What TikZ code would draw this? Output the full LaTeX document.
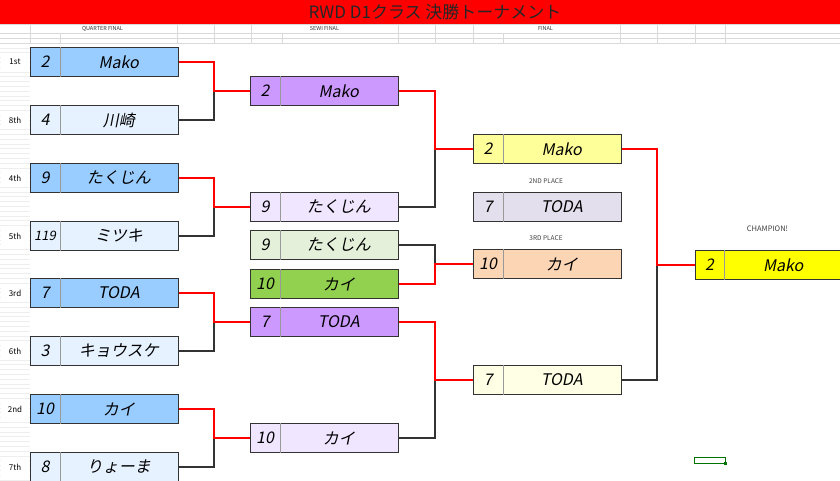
\documentclass[tikz,border=0pt]{standalone}
\usepackage{fontspec}
\setmainfont{Noto Sans CJK JP}
\newfontfamily\slfont[FakeSlant=0.2]{Noto Sans CJK JP}
\usetikzlibrary{positioning}

\definecolor{cbar}{HTML}{FF0000}
\definecolor{cgrid}{HTML}{D9D9D9}
\definecolor{cframe}{HTML}{333333}
\definecolor{cqfwin}{HTML}{99CCFF}
\definecolor{cqflose}{HTML}{E6F2FF}
\definecolor{csfwin}{HTML}{CC99FF}
\definecolor{csflose}{HTML}{F0E6FF}
\definecolor{ctplose}{HTML}{E4F0DA}
\definecolor{ctpwin}{HTML}{92D050}
\definecolor{cfwin}{HTML}{FFFF99}
\definecolor{cflose}{HTML}{FFFFE5}
\definecolor{csecond}{HTML}{E4DFEC}
\definecolor{cthird}{HTML}{FCD5B4}
\definecolor{cchamp}{HTML}{FFFF00}

% one entry: name, left x, centre y, number, player, colour
\newcommand{\entry}[6]{%
  \node[entry, fill=#6] (#1) at (#2,#3) {};
  \draw[divider] ([xshift=30pt]#1.north west) -- ([xshift=30pt]#1.south west);
  \node[who] (#1n) at ([xshift=15pt]#1.west) {#4};
  \node[who] (#1t) at ([xshift=88.75pt]#1.west) {#5};
}

\begin{document}
\begin{tikzpicture}[x=1pt, y=-1pt,
                    entry/.style={draw=cframe, line width=1.3pt, anchor=west, rectangle,
                                  minimum width=147.5pt, minimum height=28.5pt, inner sep=0pt},
                    divider/.style={draw=black!40, line width=0.6pt},
                    who/.style={font=\slfont\fontsize{16pt}{16pt}\selectfont, inner sep=0pt},
                    win/.style={draw=cbar, line width=1.6pt},
                    lose/.style={draw=cframe, line width=1.4pt},
                    tag/.style={font=\fontsize{8pt}{8pt}\selectfont, fill=white,
                                minimum width=28pt, minimum height=17pt, inner sep=0pt},
                    head/.style={font=\fontsize{5.5pt}{5.5pt}\selectfont, text=black!80, inner sep=0pt},
                    place/.style={font=\fontsize{6.5pt}{6.5pt}\selectfont, text=black!75, inner sep=0pt},
                    gridline/.style={draw=cgrid, line width=0.5pt}]
\clip (0,0) rectangle (840,481);
\fill[white] (0,0) rectangle (840,481);

% sheet lines
\foreach \y in {43,47.8,...,481}
    \draw[gridline, draw=cgrid!45] (0,\y) -- (30,\y);
\foreach \y in {24,33,38,43}
    \draw[gridline] (0,\y) -- (840,\y);
\foreach \x in {30,177,214,251,398,435,473,620,657,695,725}
    \draw[gridline] (\x,24) -- (\x,43);
\foreach \x in {60,282,503}
    \draw[gridline] (\x,33) -- (\x,43);

% title bar
\fill[cbar] (0,0) rectangle (840,24);
\node[font=\fontsize{17pt}{17pt}\selectfont, text=black!85, inner sep=0pt] (title) at (435,12.5)
    {RWD D1クラス 決勝トーナメント};

\node[head] (hqf) at (102.5,28.5) {QUARTER FINAL};
\node[head] (hsf) at (324.5,28.5) {SEWI FINAL};
\node[head] (hf) at (545.5,28.5) {FINAL};

% seeds
\foreach \y/\t [count=\i] in {62/1st,120/8th,178/4th,236/5th,293/3rd,351/6th,409/2nd,467/7th}
    \node[tag] (rank\i) at (15,\y) {\t};

% quarter final
\entry{qfa}{30}{62}{2}{Mako}{cqfwin}
\entry{qfb}{30}{120}{4}{川崎}{cqflose}
\entry{qfc}{30}{178}{9}{たくじん}{cqfwin}
\entry{qfd}{30}{236}{{\fontsize{13pt}{13pt}\selectfont 119}}{ミツキ}{cqflose}
\entry{qfe}{30}{293}{7}{TODA}{cqfwin}
\entry{qff}{30}{351}{3}{キョウスケ}{cqflose}
\entry{qfg}{30}{409}{10}{カイ}{cqfwin}
\entry{qfh}{30}{467}{8}{りょーま}{cqflose}

% semi final and match for 3rd
\entry{sfa}{250}{91}{2}{Mako}{csfwin}
\entry{sfb}{250}{207}{9}{たくじん}{csflose}
\entry{tpa}{250}{245}{9}{たくじん}{ctplose}
\entry{tpb}{250}{284}{10}{カイ}{ctpwin}
\entry{sfc}{250}{322}{7}{TODA}{csfwin}
\entry{sfd}{250}{438}{10}{カイ}{csflose}

% final
\entry{fa}{473}{149}{2}{Mako}{cfwin}
\entry{second}{473}{207}{7}{TODA}{csecond}
\entry{third}{473}{264}{10}{カイ}{cthird}
\entry{fb}{473}{380}{7}{TODA}{cflose}
\entry{champ}{694.5}{265}{2}{Mako}{cchamp}

\node[place] (l2nd) at (546,181) {2ND PLACE};
\node[place] (l3rd) at (546,238.5) {3RD PLACE};
\node[place, font=\fontsize{7.5pt}{7.5pt}\selectfont] (lchamp) at (767.5,229) {CHAMPION!};

% junctions
\coordinate (j1) at (214,91);
\coordinate (j2) at (214,207);
\coordinate (j3) at (214,322);
\coordinate (j4) at (214,438);
\coordinate (k1) at (435,149);
\coordinate (k2) at (435,380);
\coordinate (k3) at (435,264);
\coordinate (m1) at (657,265);

\draw[lose] (qfb.east) -| (j1);
\draw[win] (qfa.east) -| (j1) -- (sfa.west);
\draw[lose] (qfd.east) -| (j2);
\draw[win] (qfc.east) -| (j2) -- (sfb.west);
\draw[lose] (qff.east) -| (j3);
\draw[win] (qfe.east) -| (j3) -- (sfc.west);
\draw[lose] (qfh.east) -| (j4);
\draw[win] (qfg.east) -| (j4) -- (sfd.west);

\draw[lose] (sfb.east) -| (k1);
\draw[win] (sfa.east) -| (k1) -- (fa.west);
\draw[lose] (sfd.east) -| (k2);
\draw[win] (sfc.east) -| (k2) -- (fb.west);
\draw[lose] (tpa.east) -| (k3);
\draw[win] (tpb.east) -| (k3) -- (third.west);

\draw[lose] (fb.east) -| (m1);
\draw[win] (fa.east) -| (m1) -- (champ.west);

% cell cursor
\node[draw=green!45!black, line width=0.9pt, minimum width=31pt, minimum height=6pt,
      inner sep=0pt] (cursor) at (709.5,460) {};
\fill[green!45!black] ([xshift=-1.5pt,yshift=-1.5pt]cursor.south east) rectangle
    ([xshift=1.5pt,yshift=1.5pt]cursor.south east);
\end{tikzpicture}
\end{document}
